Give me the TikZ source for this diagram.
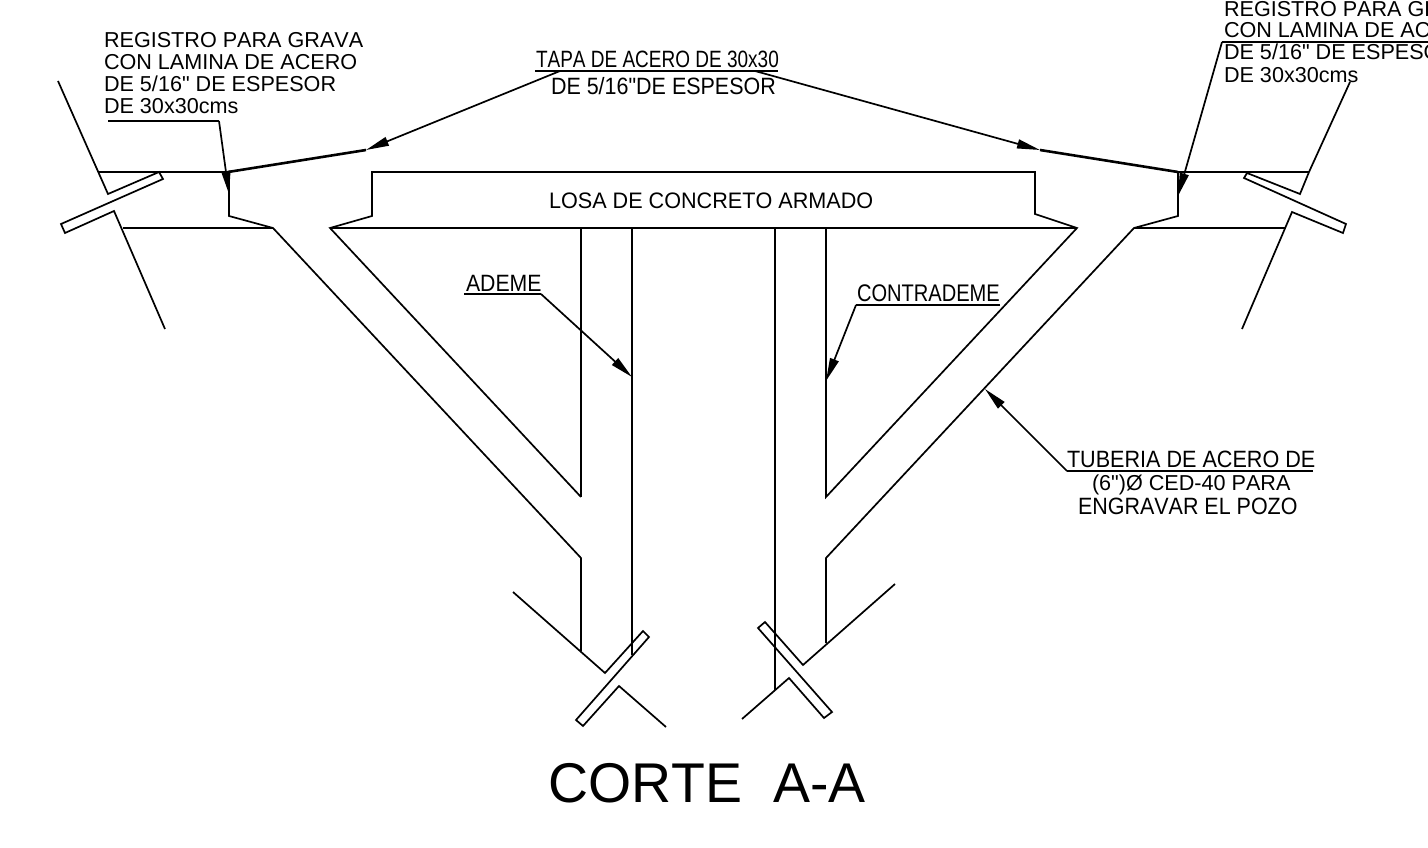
\documentclass[tikz,border=0pt]{standalone}
\usepackage{graphicx}
\usepackage{fontspec}
\setmainfont{Liberation Sans}[Ligatures=TeXOff,Kerning=Off]
\usetikzlibrary{arrows.meta}
\tikzset{
  x=1pt,y=-1pt,
  wall/.style={line width=1.7pt,line join=miter,black},
  thickline/.style={line width=2.6pt,black},
  leader/.style={line width=1.7pt,black,-{Triangle[length=23pt,width=9pt]}},
  rule/.style={line width=2pt,black},
  lbl/.style={anchor=base west,inner sep=0pt,outer sep=0pt,font=\fontsize{21.6}{24}\selectfont,text=black},
  tall/.style={font=\fontsize{23.6}{24}\selectfont},
  title/.style={anchor=base,inner sep=0pt,font=\fontsize{56}{60}\selectfont,text=black},
}
\begin{document}
\begin{tikzpicture}
\useasboundingbox (0,0) rectangle (1428,848);
\clip (0,0) rectangle (1428,848);
% left break with plate
\draw[wall] (58,81) -- (108,194) -- (159,172) -- (163,179) -- (61,224) -- (65,233) -- (114,211) -- (165,329);
\draw[wall] (98,172) -- (229,172);
\draw[wall] (123,228) -- (273,228);
% left outer profile
\draw[wall] (229,172) -- (229,216) -- (273,228) -- (581,558) -- (581,651);
% slab and inner triangles
\draw[wall] (581,497) -- (330,228) -- (372,216) -- (372,172) -- (1035,172) -- (1035,214) -- (1077,228) -- (826,497) -- (826,228);
\draw[wall] (581,228) -- (581,497);
\draw[wall] (330,228) -- (1077,228);
\draw[wall] (632,228) -- (632,655);
\draw[wall] (775,228) -- (775,690);
% right outer profile
\draw[wall] (1178,172) -- (1178,216) -- (1134,228) -- (826,558) -- (826,643);
\draw[wall] (1134,228) -- (1286,228);
\draw[wall] (1178,172) -- (1309,172);
% right break with plate
\draw[wall] (1350,82) -- (1309,172) -- (1300,194) -- (1247,173) -- (1244,178) -- (1346,224) -- (1343,233) -- (1292,212) -- (1242,329);
% bottom left break
\draw[wall] (513,592) -- (605,673) -- (643,631) -- (649,637) -- (576,720) -- (583,726) -- (619,686) -- (666,727);
% bottom right break
\draw[wall] (895,584) -- (803,665) -- (765,622) -- (758,628) -- (832,712) -- (824,718) -- (789,678) -- (742,719);
% labels
\node[lbl] (r1) at (104,48) {REGISTRO PARA GRAVA};
\node[lbl] (r2) at (104,70) {CON LAMINA DE ACERO};
\node[lbl] (r3) at (104,92) {DE 5/16" DE ESPESOR};
\node[lbl] (r4) at (104,114) {DE 30x30cms};
\node[lbl] (s1) at (1224,17) {REGISTRO PARA GRAVA};
\node[lbl] (s2) at (1224,38) {CON LAMINA DE ACERO};
\node[lbl] (s3) at (1224,60) {DE 5/16" DE ESPESOR};
\node[lbl] (s4) at (1224,83) {DE 30x30cms};
\node[lbl,tall] (t1) at (536,68) {\scalebox{.805}[1]{TAPA DE ACERO DE 30x30}};
\node[lbl,tall] (t2) at (551,95) {\scalebox{.91}[1]{DE 5/16"DE ESPESOR}};
\node[lbl,font=\fontsize{22.4}{24}\selectfont] (los) at (549,208) {\scalebox{.965}[1]{LOSA DE CONCRETO ARMADO}};
\node[lbl,tall] (ade) at (466,291) {\scalebox{.9}[1]{ADEME}};
\node[lbl,font=\fontsize{24}{24}\selectfont] (con) at (857,301) {\scalebox{.837}[1]{CONTRADEME}};
\node[lbl,tall] (tu1) at (1067,467) {\scalebox{.915}[1]{TUBERIA DE ACERO DE}};
\node[lbl] (tu2) at (1092,490) {(6")Ø CED-40 PARA};
\node[lbl,tall] (tu3) at (1078,514) {\scalebox{.91}[1]{ENGRAVAR EL POZO}};
\node[title] (cor) at (707,802) {\scalebox{.99}[1]{CORTE\ \ A-A}};
% leader points
\coordinate (ra) at (108,121); \coordinate (rb) at (219,121); \coordinate (rc) at (229,194);
\coordinate (sa) at (1428,42); \coordinate (sb) at (1222,42); \coordinate (sc) at (1178,196);
\coordinate (ta) at (535,71); \coordinate (tb) at (778,71);
\coordinate (tl) at (560,71); \coordinate (tr) at (755,71);
\coordinate (al) at (366,150); \coordinate (ar) at (1040,150);
\coordinate (bl) at (228,172); \coordinate (br) at (1178,172);
\coordinate (ada) at (464,294); \coordinate (adb) at (541,294); \coordinate (adc) at (632,377);
\coordinate (coa) at (1000,305); \coordinate (cob) at (856,305); \coordinate (coc) at (826,381);
\coordinate (tua) at (1313,471); \coordinate (tub) at (1067,471); \coordinate (tuc) at (985,389);
% leaders
\draw[rule] (ra) -- (rb);
\draw[leader] (rb) -- (rc);
\draw[rule] (sa) -- (sb);
\draw[leader] (sb) -- (sc);
\draw[rule] (ta) -- (tb);
\draw[leader] (tl) -- (al);
\draw[leader] (tr) -- (ar);
\draw[thickline] (al) -- (bl);
\draw[thickline] (ar) -- (br);
\draw[rule] (ada) -- (adb);
\draw[leader] (adb) -- (adc);
\draw[rule] (coa) -- (cob);
\draw[leader] (cob) -- (coc);
\draw[rule] (tua) -- (tub);
\draw[leader] (tub) -- (tuc);
\end{tikzpicture}
\end{document}
